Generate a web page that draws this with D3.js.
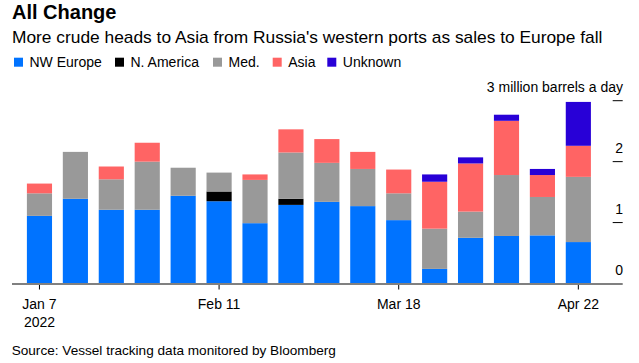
<!DOCTYPE html>
<html>
<head>
<meta charset="utf-8">
<script src="https://cdn.jsdelivr.net/npm/d3@7"></script>
<style>
  body { margin: 0; background: #fff; }
  svg { display: block; font-family: "Liberation Sans", Arial, sans-serif; }
</style>
</head>
<body>
<svg id="chart"></svg>
<script>
// weekly shipments, million barrels a day
const weeks = ['Jan 7', 'Jan 14', 'Jan 21', 'Jan 28', 'Feb 4', 'Feb 11', 'Feb 18', 'Feb 25',
               'Mar 4', 'Mar 11', 'Mar 18', 'Mar 25', 'Apr 1', 'Apr 8', 'Apr 15', 'Apr 22'];
const nwEurope  = [1.11, 1.39, 1.21, 1.21, 1.44, 1.35, 0.99, 1.29, 1.34, 1.27, 1.04, 0.24, 0.75, 0.78, 0.79, 0.68];
const nAmerica  = [0, 0, 0, 0, 0, 0.16, 0, 0.10, 0, 0, 0, 0, 0, 0, 0, 0];
const med       = [0.37, 0.77, 0.50, 0.79, 0.46, 0.31, 0.71, 0.76, 0.64, 0.61, 0.44, 0.66, 0.43, 1.00, 0.63, 1.07];
const asia      = [0.16, 0, 0.21, 0.31, 0, 0, 0.09, 0.38, 0.39, 0.28, 0.39, 0.77, 0.79, 0.89, 0.36, 0.51];
const unknown   = [0, 0, 0, 0, 0, 0, 0, 0, 0, 0, 0, 0.12, 0.10, 0.10, 0.10, 0.72];

const seriesNames = ['NW Europe', 'N. America', 'Med.', 'Asia', 'Unknown'];
const seriesColors = ['#0073ff', '#000000', '#999999', '#ff6464', '#2800d7'];
const tickWeeks = ['Jan 7', 'Feb 11', 'Mar 18', 'Apr 22'];
const yTicks = [0, 1, 2, 3];

const width = 639, height = 363;
const svg = d3.select('#chart').attr('width', width).attr('height', height);

let rows = weeks.map((w, i) => ({
    week: w,
    'NW Europe': nwEurope[i],
    'N. America': nAmerica[i],
    'Med.': med[i],
    'Asia': asia[i],
    'Unknown': unknown[i]
}));
let stacked = d3.stack().keys(seriesNames)(rows);

let x = d3.scaleBand().domain(weeks).range([21.5, 596.3]).paddingInner(0.3).paddingOuter(0.15);
let y = d3.scaleLinear().domain([0, 3]).range([283.5, 100.7]);
let color = d3.scaleOrdinal().domain(seriesNames).range(seriesColors);

// title block
svg.append('text')
    .attr('x', 12).attr('y', 18.5)
    .style('font-size', '20px').style('font-weight', 'bold')
    .text('All Change');
svg.append('text')
    .attr('x', 12).attr('y', 42.7)
    .style('font-size', '17.35px')
    .text("More crude heads to Asia from Russia's western ports as sales to Europe fall");

// legend
let legendX = [14, 115, 213, 272.7, 327.3];
let legend = svg.append('g').selectAll('g')
    .data(seriesNames)
    .enter().append('g')
    .attr('transform', (d, i) => 'translate(' + legendX[i] + ',57.7)');
legend.append('rect')
    .attr('width', 9).attr('height', 9)
    .attr('fill', d => color(d));
legend.append('text')
    .attr('x', 15.5).attr('y', 9)
    .style('font-size', '14px')
    .text(d => d);

// bars
svg.append('g').selectAll('g')
    .data(stacked)
    .enter().append('g')
    .attr('fill', d => color(d.key))
    .selectAll('rect')
    .data(d => d.filter(p => p[1] - p[0] > 0))
    .enter().append('rect')
    .attr('x', p => x(p.data.week))
    .attr('width', x.bandwidth())
    .attr('y', p => y(p[1]))
    .attr('height', p => y(p[0]) - y(p[1]));

// y axis on the right, labels sit above the ticks
let yAxis = svg.append('g');
yAxis.selectAll('line')
    .data(yTicks.filter(t => t > 0))
    .enter().append('line')
    .attr('x1', 612.7).attr('x2', 622.7)
    .attr('y1', t => y(t)).attr('y2', t => y(t))
    .attr('stroke', '#000').attr('stroke-width', 1);
yAxis.selectAll('text')
    .data(yTicks)
    .enter().append('text')
    .attr('x', 623).attr('y', t => y(t) - 9)
    .attr('text-anchor', 'end')
    .style('font-size', '14px')
    .text(t => t === 3 ? '3 million barrels a day' : t);

// x axis
svg.append('line')
    .attr('x1', 12).attr('x2', 622.7)
    .attr('y1', 284).attr('y2', 284)
    .attr('stroke', '#808080').attr('stroke-width', 2);
let xTicks = svg.append('g').selectAll('g')
    .data(tickWeeks)
    .enter().append('g')
    .attr('transform', d => 'translate(' + (x(d) + x.bandwidth() / 2) + ',0)');
xTicks.append('line')
    .attr('y1', 285).attr('y2', 289.5)
    .attr('stroke', '#000').attr('stroke-width', 1);
xTicks.append('text')
    .attr('y', 309.3)
    .attr('text-anchor', 'middle')
    .style('font-size', '14px')
    .text(d => d);
svg.append('text')
    .attr('x', x('Jan 7') + x.bandwidth() / 2).attr('y', 326.7)
    .attr('text-anchor', 'middle')
    .style('font-size', '14px')
    .text('2022');

svg.append('text')
    .attr('x', 11.7).attr('y', 355)
    .style('font-size', '13.6px')
    .text('Source: Vessel tracking data monitored by Bloomberg');
</script>
</body>
</html>
